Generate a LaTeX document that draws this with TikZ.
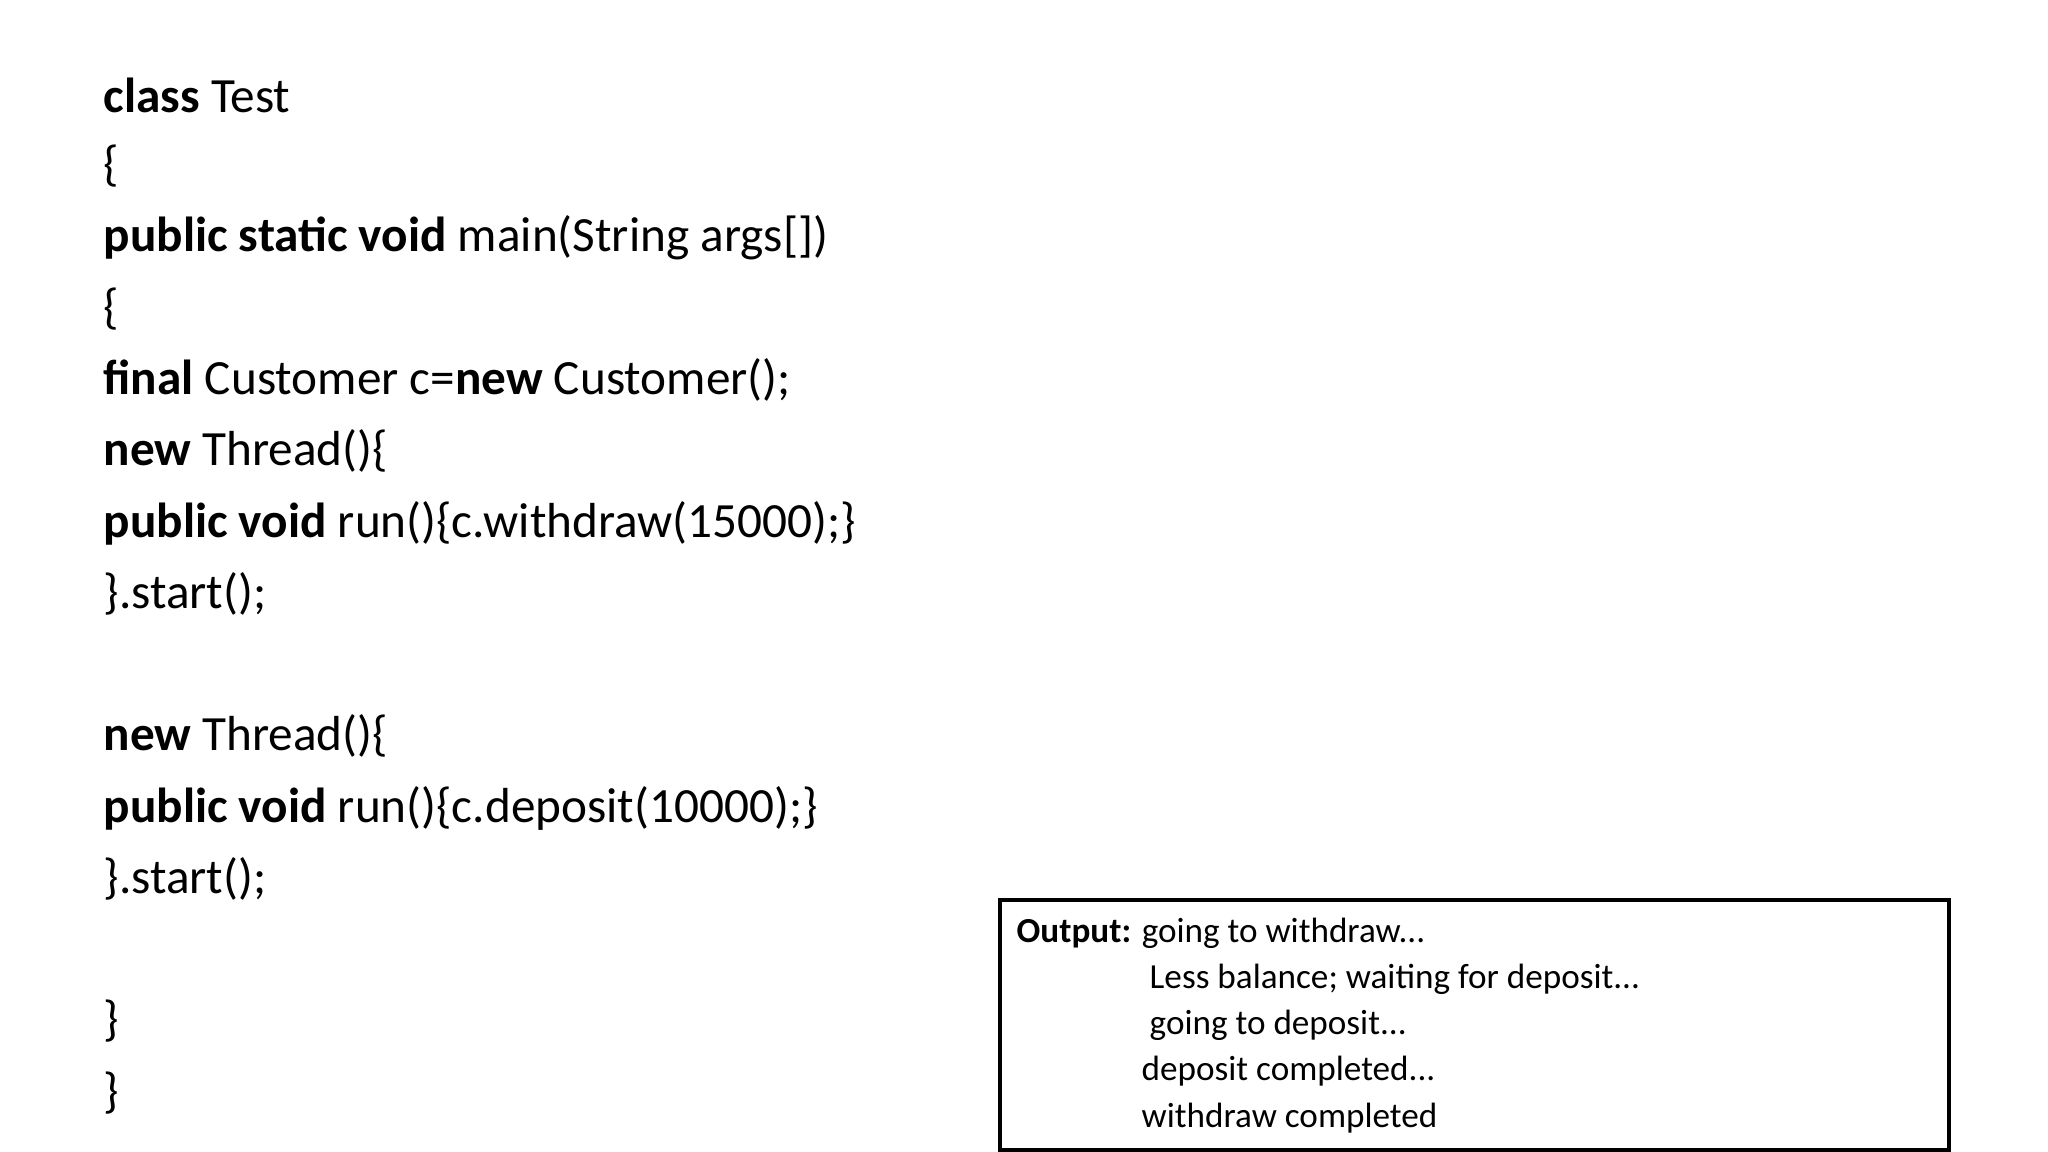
\documentclass[tikz,border=0pt]{standalone}
\usepackage{fontspec}
\setmainfont{Carlito}
\begin{document}
\begin{tikzpicture}[x=0.01cm,y=-0.01cm,
  code/.style={anchor=west,inner sep=0pt,font=\fontsize{14}{16}\selectfont},
  outtext/.style={anchor=west,inner sep=0pt,font=\fontsize{10}{12}\selectfont}]
\useasboundingbox[fill=white] (0,0) rectangle (2048,1152);
\node[code] (l1) at (103,95) {\textbf{class} Test};
\node[code] (l2) at (103,166) {\{};
\node[code] (l3) at (103,238) {\textbf{public static void} main(String args[])};
\node[code] (l4) at (103,309) {\{};
\node[code] (l5) at (103,380) {\textbf{final} Customer c=\textbf{new} Customer();};
\node[code] (l6) at (103,451) {\textbf{new} Thread()\{};
\node[code] (l7) at (103,523) {\textbf{public void} run()\{c.withdraw(15000);\}};
\node[code] (l8) at (103,594) {\}.start();};
\node[code] (l9) at (103,736) {\textbf{new} Thread()\{};
\node[code] (l10) at (103,808) {\textbf{public void} run()\{c.deposit(10000);\}};
\node[code] (l11) at (103,879) {\}.start();};
\node[code] (l12) at (103,1021) {\}};
\node[code] (l13) at (103,1093) {\}};
\draw[line width=1.3pt] (1000,900) rectangle (1949,1150);
\node[outtext] (o1) at (1016,933) {\textbf{Output:} going to withdraw...};
\node[outtext] (o2) at (1149,979) {Less balance; waiting for deposit...};
\node[outtext] (o3) at (1149,1025) {going to deposit...};
\node[outtext] (o4) at (1141,1071) {deposit completed...};
\node[outtext] (o5) at (1141,1118) {withdraw completed};
\end{tikzpicture}
\end{document}
